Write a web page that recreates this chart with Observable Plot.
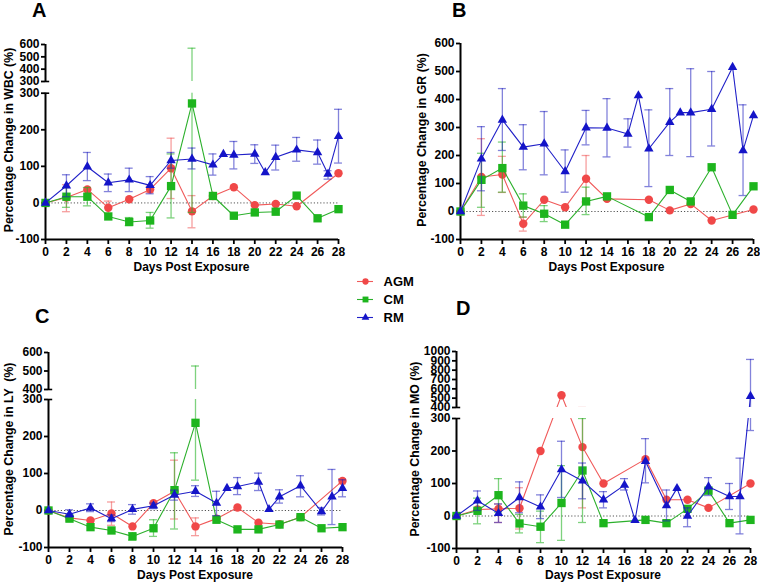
<!DOCTYPE html>
<html><head><meta charset="utf-8">
<script src="https://cdn.jsdelivr.net/npm/d3@7"></script>
<script src="https://cdn.jsdelivr.net/npm/@observablehq/plot@0.6"></script>
<style>
body{margin:0;background:#fff;}
#wrap{position:relative;width:760px;height:582px;font-family:"Liberation Sans",Arial,sans-serif;font-weight:bold;color:#000;overflow:hidden;background:#fff}
.pane{position:absolute}
.pane svg{overflow:visible}
.letter{position:absolute;font-size:20px;line-height:20px;font-weight:bold}
.xt{position:absolute;font-size:12px;line-height:12px;white-space:nowrap;transform:translateX(-50%)}
.yt{position:absolute;font-size:12.3px;line-height:12px;white-space:pre;transform:translate(-50%,-50%) rotate(-90deg)}
svg g[aria-label*="tick"] path, svg g[aria-label*="axis"] g.tick line{stroke-width:1.8px}
</style></head>
<body><div id="wrap"></div>
<script>
// ---------- data ----------
const seriesNames = ["AGM", "CM", "RM"];
const xTicks = [0,2,4,6,8,10,12,14,16,18,20,22,24,26,28];
const daysEven = [0,2,4,6,8,10,12,14,16,18,20,22,24,26,28];
const daysRM = [0,2,4,6,8,10,12,14,16,17,18,20,21,22,24,26,27,28];

// Panel A: WBC
const A_days_AGM = [0,2,4,6,8,10,12,14,16,18,20,22,24,28];
const A_AGM = [0,15,37,-13,10,37,95,-23,19,43,-6,-3,-9,81];
const A_AGM_bars = [[2,-24,50],[6,-29,5],[10,28,46],[12,12,177],[14,-68,20]];
const A_CM = [0,17,17,-37,-52,-48,46,272,19,-35,-26,-24,20,-42,-17];
const A_CM_bars = [[2,-12,42],[4,-8,42],[8,-62,-40],[10,-69,-26],[12,-41,134],[14,-26,570]];
const A_RM = [0,47,99,55,63,48,116,120,104,133,131,134,83,125,145,138,79,182];
const A_RM_bars = [[2,17,77],[4,61,138],[6,31,79],[8,31,95],[10,25,72],[12,95,138],[14,93,150],[16,76,134],[18,93,168],[20,108,159],[22,90,158],[24,114,179],[26,106,172],[27,65,88],[28,109,256]];

// Panel B: GR
const B_days_AGM = [0,2,4,6,8,10,12,14,18,20,22,24,28];
const B_AGM = [0,123,132,-44,42,15,117,45,42,4,27,-32,7];
const B_AGM_bars = [[2,-14,260],[4,68,197],[6,-70,-20],[12,34,200]];
const B_days_CM = [0,2,4,6,8,10,12,14,18,20,22,24,26,28];
const B_CM = [0,113,155,21,-8,-47,36,54,-20,77,36,158,-12,90];
const B_CM_bars = [[2,15,208],[4,69,248],[6,-20,63],[8,-36,21],[12,-11,87]];
const B_RM = [0,188,327,230,242,143,299,298,277,414,224,319,353,353,365,515,218,343];
const B_RM_bars = [[2,74,303],[4,218,439],[6,149,310],[8,131,357],[10,69,220],[12,238,361],[14,195,403],[16,230,331],[18,89,363],[20,200,439],[22,196,510],[24,234,500],[27,57,381]];

// Panel C: LY
const C_days_AGM = [0,2,4,6,8,10,12,14,16,18,20,22,24,28];
const C_AGM = [0,-20,-27,-8,-43,20,52,-43,-22,8,-33,-37,-18,80];
const C_AGM_bars = [[2,-28,-12],[6,-40,23],[12,-23,136],[14,-68,-20],[28,72,86]];
const C_CM = [0,-22,-45,-54,-70,-48,55,237,-25,-51,-51,-38,-18,-48,-45];
const C_CM_bars = [[8,-80,-60],[10,-70,-25],[12,-50,156],[14,82,527]];
const C_RM = [0,-10,7,-22,3,13,42,52,20,60,65,77,3,37,67,-3,37,60];
const C_RM_bars = [[2,-18,2],[4,-3,18],[6,-30,-12],[8,-10,16],[10,5,20],[12,28,55],[14,38,67],[16,-14,52],[18,43,89],[20,54,101],[22,20,56],[24,37,94],[26,-12,8],[27,-38,111],[28,37,83]];

// Panel D: MO
const D_days_AGM = [0,2,4,6,8,10,12,14,18,20,22,24,28];
const D_AGM = [0,20,22,24,200,532,212,100,175,50,50,25,100];
const D_AGM_bars = [[4,-20,37],[6,-40,87],[12,25,400]];
const D_days_CM = [0,2,4,6,8,10,12,14,18,20,22,24,26,28];
const D_CM = [0,16,64,-23,-33,40,140,-22,-12,-22,22,78,-22,-12];
const D_CM_bars = [[2,-24,55],[4,12,115],[6,-52,5],[8,-82,15],[10,-75,155],[12,-20,300],[24,70,85]];
const D_RM = [0,47,8,57,28,143,108,50,95,-13,168,32,85,0,90,60,60,521];
const D_RM_bars = [[2,17,77],[4,-20,37],[6,10,105],[8,-8,65],[10,57,230],[12,53,163],[14,25,75],[16,80,115],[18,102,238],[20,-15,80],[22,-33,25],[24,63,118],[26,20,100],[27,-55,178],[28,263,915]];

const yTitles = ["Percentage Change in WBC (%)", "Percentage Change in GR (%)", "Percentage Change in LY  (%)", "Percentage Change in MO (%)"];
const xTitle = "Days Post Exposure";
const panelLetters = ["A", "B", "C", "D"];

// ---------- styles ----------
const STY = {
  AGM: {color: "#f04848", line: "#f05a5a", err: "rgba(238,80,80,0.55)", symbol: "circle", r: 4.2},
  CM:  {color: "#1db51d", line: "#2cb02c", err: "rgba(40,180,40,0.6)", symbol: "square", r: 4.7},
  RM:  {color: "#1414c8", line: "#2020c8", err: "rgba(30,30,190,0.55)", symbol: "triangle", r: 3.5}
};
const FONT = '"Liberation Sans", Arial, sans-serif';
const EPS = 1e-6;
const wrap = document.getElementById("wrap");

function mkSeries(name, days, values, bars) {
  return {name, days, values, bars, ...STY[name]};
}

function drawPanel(cfg) {
  const {left, top, w, h, xRange, yDomain, yRange, yTicks, breakLo, breakHi, series} = cfg;
  const ymin = yDomain[0], ymax = yDomain[yDomain.length - 1];
  const marks = [];
  marks.push(Plot.ruleY([0], {stroke: "#555", strokeDasharray: "1.2 2", strokeWidth: 1}));
  marks.push(Plot.ruleY([ymin], {stroke: "#000", strokeWidth: 2}));
  if (breakLo != null) {
    marks.push(Plot.ruleX([0], {y1: ymin, y2: breakLo, stroke: "#000", strokeWidth: 2}));
    marks.push(Plot.ruleX([0], {y1: breakHi, y2: ymax, stroke: "#000", strokeWidth: 2}));
  } else {
    marks.push(Plot.ruleX([0], {y1: ymin, y2: ymax, stroke: "#000", strokeWidth: 2}));
  }
  for (const s of series) {
    const pts = s.days.map((d, i) => ({day: d, v: s.values[i]}));
    const caps = s.bars.flatMap(b => [{day: b[0], v: b[1]}, {day: b[0], v: b[2]}]);
    marks.push(Plot.ruleX(s.bars, {x: b => b[0], y1: b => b[1], y2: b => b[2], stroke: s.err, strokeWidth: 1.3}));
    marks.push(Plot.ruleY(caps, {y: "v", x1: c => c.day - 0.38, x2: c => c.day + 0.38, stroke: s.err, strokeWidth: 1.3}));
    marks.push(Plot.line(pts, {x: "day", y: "v", stroke: s.line, strokeWidth: 1.1}));
    marks.push(Plot.dot(pts, {x: "day", y: "v", symbol: s.symbol, r: s.r, fill: s.color}));
  }
  if (breakLo != null) {
    marks.push(Plot.rect([0], {x1: 0.12, x2: 28.7, y1: breakLo, y2: breakHi, fill: "white"}));
    marks.push(Plot.ruleY([breakLo, breakHi], {x1: 0, x2: 0.4, stroke: "#000", strokeWidth: 1.6}));
  }
  const chart = Plot.plot({
    width: w, height: h,
    marginLeft: xRange[0], marginRight: w - xRange[1],
    marginTop: yRange[yRange.length - 1], marginBottom: h - yRange[0],
    style: {fontFamily: FONT, fontSize: "12px", fontWeight: "bold", color: "#000", background: "transparent", overflow: "visible"},
    x: {domain: [0, 28], range: xRange, ticks: xTicks, tickSize: 5, tickPadding: 3, label: null},
    y: {type: "linear", domain: yDomain, range: yRange, ticks: yTicks, tickFormat: d => String(Math.round(d)), tickSize: 4, tickPadding: 2, label: null},
    marks
  });
  const div = document.createElement("div");
  div.className = "pane";
  div.style.left = left + "px"; div.style.top = top + "px";
  div.appendChild(chart);
  wrap.appendChild(div);
}

function addText(cls, text, x, y) {
  const d = document.createElement("div");
  d.className = cls; d.textContent = text;
  d.style.left = x + "px"; d.style.top = y + "px";
  wrap.appendChild(d);
}

// Panel A
drawPanel({
  left: 0, top: 0, w: 380, h: 290, xRange: [45, 338],
  yDomain: [-100, 300, 300 + EPS, 600], yRange: [239, 92.7, 81, 44],
  yTicks: [-100, 0, 100, 200, 300, 300 + EPS, 400, 500, 600], breakLo: 300, breakHi: 300 + EPS,
  series: [mkSeries("AGM", A_days_AGM, A_AGM, A_AGM_bars), mkSeries("CM", daysEven, A_CM, A_CM_bars), mkSeries("RM", daysRM, A_RM, A_RM_bars)]
});
// Panel B
drawPanel({
  left: 380, top: 0, w: 380, h: 290, xRange: [80, 373],
  yDomain: [-100, 600], yRange: [239, 43],
  yTicks: [-100, 0, 100, 200, 300, 400, 500, 600], breakLo: null,
  series: [mkSeries("AGM", B_days_AGM, B_AGM, B_AGM_bars), mkSeries("CM", B_days_CM, B_CM, B_CM_bars), mkSeries("RM", daysRM, B_RM, B_RM_bars)]
});
// Panel C
drawPanel({
  left: 0, top: 290, w: 380, h: 292, xRange: [48, 342],
  yDomain: [-100, 300, 400, 600], yRange: [257, 109, 99, 62],
  yTicks: [-100, 0, 100, 200, 300, 400, 500, 600], breakLo: 300, breakHi: 400,
  series: [mkSeries("AGM", C_days_AGM, C_AGM, C_AGM_bars), mkSeries("CM", daysEven, C_CM, C_CM_bars), mkSeries("RM", daysRM, C_RM, C_RM_bars)]
});
// Panel D
drawPanel({
  left: 380, top: 290, w: 380, h: 292, xRange: [76, 370],
  yDomain: [-100, 300, 400, 1000], yRange: [258, 128, 117, 61],
  yTicks: [-100, 0, 100, 200, 300, 400, 500, 600, 700, 800, 900, 1000], breakLo: 300, breakHi: 400,
  series: [mkSeries("AGM", D_days_AGM, D_AGM, D_AGM_bars), mkSeries("CM", D_days_CM, D_CM, D_CM_bars), mkSeries("RM", daysRM, D_RM, D_RM_bars)]
});

// Titles
addText("letter", panelLetters[0], 32, 0);
addText("letter", panelLetters[1], 452, 0);
addText("letter", panelLetters[2], 35, 306);
addText("letter", panelLetters[3], 456, 298);
addText("xt", xTitle, 191.5, 261);
addText("xt", xTitle, 606.5, 261);
addText("xt", xTitle, 195, 569);
addText("xt", xTitle, 603, 569);
addText("yt", yTitles[0], 9, 140);
addText("yt", yTitles[1], 422, 140);
addText("yt", yTitles[2], 9, 449);
addText("yt", yTitles[3], 415, 449);

// Legend
const legend = Plot.plot({
  width: 80, height: 60, marginLeft: 0, marginRight: 55, marginTop: 12, marginBottom: 11,
  style: {fontFamily: FONT, fontSize: "13px", fontWeight: "bold", color: "#000", background: "transparent", overflow: "visible"},
  x: {domain: [0, 1], range: [7, 23], axis: null},
  y: {type: "point", domain: seriesNames, range: [12, 49], padding: 0, axis: "right", tickSize: 0, tickPadding: 8, label: null},
  marks: [
    Plot.ruleY(seriesNames, {y: d => d, x1: 0, x2: 1, stroke: d => STY[d].line, strokeWidth: 1.1}),
    Plot.dot(seriesNames, {x: 0.5, y: d => d, symbol: d => STY[d].symbol, r: d => STY[d].r, fill: d => STY[d].color})
  ]
});
const ld = document.createElement("div");
ld.className = "pane"; ld.style.left = "350px"; ld.style.top = "268px";
ld.appendChild(legend);
wrap.appendChild(ld);
</script>
</body></html>
